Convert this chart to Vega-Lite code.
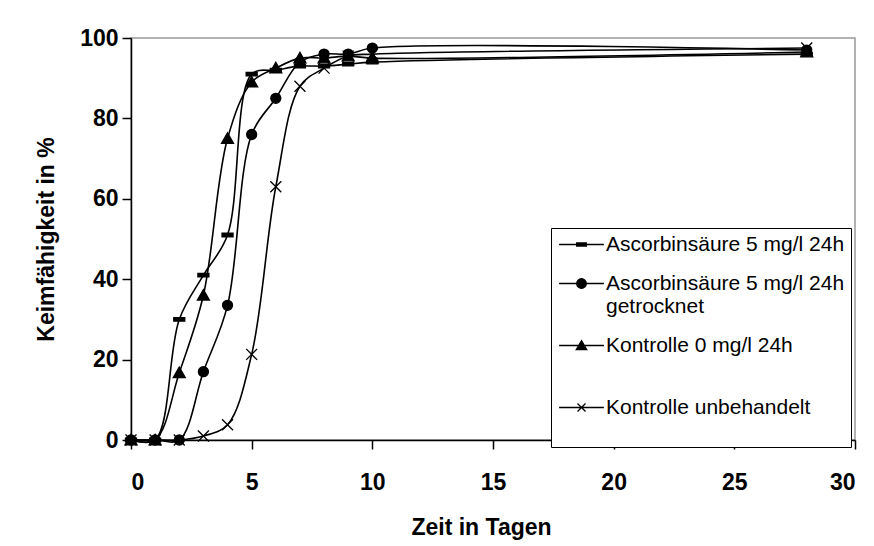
{
  "$schema": "https://vega.github.io/schema/vega-lite/v6.json",
  "width": 724,
  "height": 402,
  "autosize": {"type": "none"},
  "padding": {"left": 131, "top": 38, "right": 19, "bottom": 106},
  "background": "white",
  "config": {
    "font": "Liberation Sans",
    "view": {"stroke": "#999999", "strokeWidth": 1.5},
    "axis": {
      "domainColor": "black",
      "domainWidth": 1.5,
      "tickColor": "black",
      "tickWidth": 1.5,
      "tickSize": 9,
      "grid": false,
      "labelFont": "Liberation Sans",
      "labelFontWeight": "bold",
      "labelFontSize": 23,
      "labelColor": "black",
      "titleFont": "Liberation Sans",
      "titleFontWeight": "bold",
      "titleFontSize": 23,
      "titleColor": "black"
    },
    "legend": {
      "title": null,
      "orient": "none",
      "legendX": 420,
      "legendY": 190,
      "direction": "vertical",
      "symbolOpacity": 1,
      "symbolSize": 64,
      "symbolOffset": 14,
      "labelOffset": 14,
      "labelFont": "Liberation Sans",
      "labelFontSize": 21,
      "labelLimit": 400,
      "rowPadding": 17,
      "padding": 6,
      "cornerRadius": 0
    }
  },
  "data": {
    "values": [
      {"serie": "Ascorbinsäure 5 mg/l 24h", "tag": 0, "wert": 0},
      {"serie": "Ascorbinsäure 5 mg/l 24h", "tag": 1, "wert": 0},
      {"serie": "Ascorbinsäure 5 mg/l 24h", "tag": 2, "wert": 30},
      {"serie": "Ascorbinsäure 5 mg/l 24h", "tag": 3, "wert": 41},
      {"serie": "Ascorbinsäure 5 mg/l 24h", "tag": 4, "wert": 51},
      {"serie": "Ascorbinsäure 5 mg/l 24h", "tag": 5, "wert": 91},
      {"serie": "Ascorbinsäure 5 mg/l 24h", "tag": 6, "wert": 92},
      {"serie": "Ascorbinsäure 5 mg/l 24h", "tag": 7, "wert": 93},
      {"serie": "Ascorbinsäure 5 mg/l 24h", "tag": 8, "wert": 93},
      {"serie": "Ascorbinsäure 5 mg/l 24h", "tag": 9, "wert": 93.5},
      {"serie": "Ascorbinsäure 5 mg/l 24h", "tag": 10, "wert": 94},
      {"serie": "Ascorbinsäure 5 mg/l 24h", "tag": 28, "wert": 96},
      {"serie": "Ascorbinsäure 5 mg/l 24h getrocknet", "tag": 0, "wert": 0},
      {"serie": "Ascorbinsäure 5 mg/l 24h getrocknet", "tag": 1, "wert": 0},
      {"serie": "Ascorbinsäure 5 mg/l 24h getrocknet", "tag": 2, "wert": 0},
      {"serie": "Ascorbinsäure 5 mg/l 24h getrocknet", "tag": 3, "wert": 17},
      {"serie": "Ascorbinsäure 5 mg/l 24h getrocknet", "tag": 4, "wert": 33.5},
      {"serie": "Ascorbinsäure 5 mg/l 24h getrocknet", "tag": 5, "wert": 76},
      {"serie": "Ascorbinsäure 5 mg/l 24h getrocknet", "tag": 6, "wert": 85},
      {"serie": "Ascorbinsäure 5 mg/l 24h getrocknet", "tag": 7, "wert": 94},
      {"serie": "Ascorbinsäure 5 mg/l 24h getrocknet", "tag": 8, "wert": 96},
      {"serie": "Ascorbinsäure 5 mg/l 24h getrocknet", "tag": 9, "wert": 96},
      {"serie": "Ascorbinsäure 5 mg/l 24h getrocknet", "tag": 10, "wert": 97.5},
      {"serie": "Ascorbinsäure 5 mg/l 24h getrocknet", "tag": 28, "wert": 97},
      {"serie": "Kontrolle 0 mg/l 24h", "tag": 0, "wert": 0},
      {"serie": "Kontrolle 0 mg/l 24h", "tag": 1, "wert": 0},
      {"serie": "Kontrolle 0 mg/l 24h", "tag": 2, "wert": 16.7},
      {"serie": "Kontrolle 0 mg/l 24h", "tag": 3, "wert": 36},
      {"serie": "Kontrolle 0 mg/l 24h", "tag": 4, "wert": 75},
      {"serie": "Kontrolle 0 mg/l 24h", "tag": 5, "wert": 89},
      {"serie": "Kontrolle 0 mg/l 24h", "tag": 6, "wert": 92.5},
      {"serie": "Kontrolle 0 mg/l 24h", "tag": 7, "wert": 95},
      {"serie": "Kontrolle 0 mg/l 24h", "tag": 8, "wert": 95},
      {"serie": "Kontrolle 0 mg/l 24h", "tag": 9, "wert": 95.5},
      {"serie": "Kontrolle 0 mg/l 24h", "tag": 10, "wert": 95},
      {"serie": "Kontrolle 0 mg/l 24h", "tag": 28, "wert": 96.5},
      {"serie": "Kontrolle unbehandelt", "tag": 0, "wert": 0},
      {"serie": "Kontrolle unbehandelt", "tag": 1, "wert": 0},
      {"serie": "Kontrolle unbehandelt", "tag": 2, "wert": 0},
      {"serie": "Kontrolle unbehandelt", "tag": 3, "wert": 1},
      {"serie": "Kontrolle unbehandelt", "tag": 4, "wert": 3.8},
      {"serie": "Kontrolle unbehandelt", "tag": 5, "wert": 21.3},
      {"serie": "Kontrolle unbehandelt", "tag": 6, "wert": 63},
      {"serie": "Kontrolle unbehandelt", "tag": 7, "wert": 88},
      {"serie": "Kontrolle unbehandelt", "tag": 8, "wert": 92.5},
      {"serie": "Kontrolle unbehandelt", "tag": 9, "wert": 95.5},
      {"serie": "Kontrolle unbehandelt", "tag": 10, "wert": 96},
      {"serie": "Kontrolle unbehandelt", "tag": 28, "wert": 97.5}
    ]
  },
  "encoding": {
    "x": {
      "field": "tag", "type": "quantitative",
      "scale": {"domain": [0, 30], "nice": false, "zero": false},
      "axis": {"values": [0, 5, 10, 15, 20, 25, 30], "title": "Zeit in Tagen", "labelPadding": 22, "titleX": 350, "titleY": 94, "titleBaseline": "alphabetic", "titleAlign": "center"}
    },
    "y": {
      "field": "wert", "type": "quantitative",
      "scale": {"domain": [0, 100], "nice": false},
      "axis": {"values": [0, 20, 40, 60, 80, 100], "title": "Keimfähigkeit in %", "labelPadding": 4, "titleX": -78, "titleY": 201, "titleAngle": 270, "titleBaseline": "alphabetic", "titleAlign": "center"}
    }
  },
  "resolve": {"scale": {"shape": "independent"}, "legend": {"shape": "independent"}},
  "layer": [
    {
      "mark": {"type": "line", "interpolate": "catmull-rom", "color": "black", "strokeWidth": 1.6, "clip": false},
      "encoding": {"detail": {"field": "serie"}}
    },
    {
      "mark": {"type": "point", "filled": true, "color": "black", "stroke": "black", "strokeWidth": 1.3, "opacity": 1, "size": 100},
      "encoding": {
        "shape": {
          "field": "serie", "type": "nominal",
          "scale": {
            "domain": ["Ascorbinsäure 5 mg/l 24h", "Ascorbinsäure 5 mg/l 24h getrocknet", "Kontrolle 0 mg/l 24h", "Kontrolle unbehandelt"],
            "range": ["M-1.1,-0.35L1.1,-0.35L1.1,0.35L-1.1,0.35Z", "circle", "M0,-1.15L1.2,0.95L-1.2,0.95Z", "M-1.1,-1.1L1.1,1.1M-1.1,1.1L1.1,-1.1"]
          },
          "legend": null
        }
      }
    },
    {
      "mark": {"type": "point", "filled": false, "color": "black", "strokeWidth": 1.3, "opacity": 0, "size": 64},
      "encoding": {
        "shape": {
          "field": "serie", "type": "nominal",
          "scale": {
            "domain": ["Ascorbinsäure 5 mg/l 24h", "Ascorbinsäure 5 mg/l 24h getrocknet", "Kontrolle 0 mg/l 24h", "Kontrolle unbehandelt"],
            "range": [
              "M-5.6,0L5.6,0M-1.2,-0.4L1.2,-0.4L1.2,0.4L-1.2,0.4Z",
              "M-5.6,0L5.6,0M1.2,0A1.2,1.2,0,1,1,-1.2,0A1.2,1.2,0,1,1,1.2,0Z",
              "M-5.6,0L5.6,0M0,-1.2L1.3,1L-1.3,1Z",
              "M-5.6,0L5.6,0M-1,-1L1,1M-1,1L1,-1"
            ]
          },
          "legend": {
            "symbolStrokeWidth": 1.3,
            "labelColor": "black",
            "labelExpr": "datum.label == 'Ascorbinsäure 5 mg/l 24h getrocknet' ? ['Ascorbinsäure 5 mg/l 24h', 'getrocknet'] : (datum.label == 'Ascorbinsäure 5 mg/l 24h' ? datum.label : [datum.label, ' '])",
            "strokeColor": "black",
            "fillColor": "white"
          }
        }
      }
    },
    {
      "mark": {"type": "point", "filled": true, "color": "black", "opacity": 0, "size": 64},
      "encoding": {
        "shape": {
          "field": "serie", "type": "nominal",
          "scale": {
            "domain": ["Ascorbinsäure 5 mg/l 24h", "Ascorbinsäure 5 mg/l 24h getrocknet", "Kontrolle 0 mg/l 24h", "Kontrolle unbehandelt"],
            "range": [
              "M-5.6,0L5.6,0M-1.2,-0.4L1.2,-0.4L1.2,0.4L-1.2,0.4Z",
              "M-5.6,0L5.6,0M1.2,0A1.2,1.2,0,1,1,-1.2,0A1.2,1.2,0,1,1,1.2,0Z",
              "M-5.6,0L5.6,0M0,-1.2L1.3,1L-1.3,1Z",
              "M-5.6,0L5.6,0M-1,-1L1,1M-1,1L1,-1"
            ]
          },
          "legend": {
            "labelColor": "transparent",
            "labelExpr": "datum.label == 'Ascorbinsäure 5 mg/l 24h getrocknet' ? ['Ascorbinsäure 5 mg/l 24h', 'getrocknet'] : (datum.label == 'Ascorbinsäure 5 mg/l 24h' ? datum.label : [datum.label, ' '])"
          }
        }
      }
    }
  ]
}
